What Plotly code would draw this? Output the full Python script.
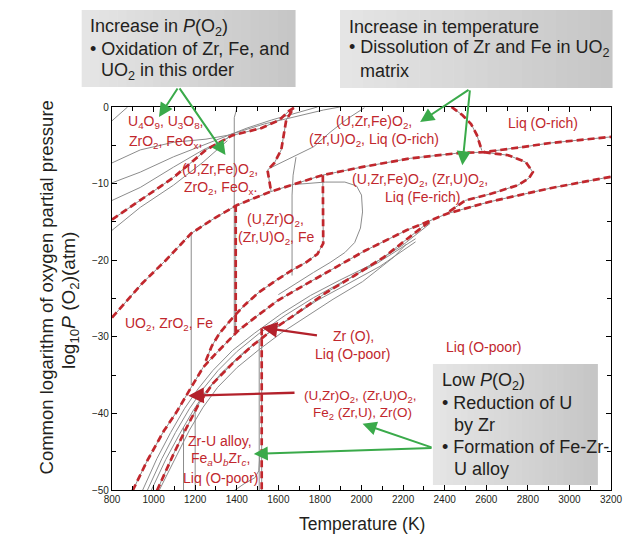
import plotly.graph_objects as go

# ---------------- data: T (K), log10 P(O2) (atm) ----------------
# red dashed phase boundaries
oxid_T = [800, 936, 1096, 1252, 1379, 1520, 1605, 1652, 1675, 1638, 1628, 1614, 1581, 1558, 1548, 1565]
oxid_P = [-14.7, -12.2, -9.2, -5.6, -3.7, -2.75, -1.7, -0.5, -0.1, -1.7, -3.4, -5.6, -7.3, -8.0, -8.25, -11.0]

main_T = [800, 946, 1059, 1181, 1294, 1402, 1558, 1685, 1812, 2000, 2235, 2471, 2588, 2781, 2908, 3200]
main_P = [-27.5, -23.0, -20.0, -16.5, -14.5, -12.8, -11.1, -10.0, -8.9, -7.85, -6.7, -6.0, -5.9, -5.2, -4.7, -3.9]

dome_T = [2433, 2485, 2527, 2555, 2579]
dome_P = [0.0, -1.05, -2.23, -3.66, -5.7]

lobe_T = [2588, 2706, 2790, 2824, 2805, 2753, 2626, 2499, 2414]
lobe_P = [-5.9, -6.3, -7.2, -8.5, -9.3, -10.2, -11.3, -12.2, -13.8]

band_hi_T = [899, 969, 1049, 1111, 1172, 1238, 1299, 1407, 1487, 1595, 1722, 1826, 2014, 2216, 2414, 2612, 2908, 3200]
band_hi_P = [-50.1, -46.2, -42.3, -39.8, -37.0, -34.0, -32.2, -29.2, -27.5, -25.3, -23.3, -21.7, -18.8, -16.1, -13.9, -12.4, -10.6, -9.1]

band_lo_T = [1016, 1096, 1158, 1219, 1285, 1379, 1473, 1567, 1685, 1826, 1967, 2108, 2216, 2330]
band_lo_P = [-50.1, -45.3, -41.9, -38.7, -36.1, -33.5, -31.2, -29.2, -27.0, -24.3, -22.0, -19.6, -17.3, -14.9]

v1_T = [1395, 1395]
v1_P = [-12.8, -29.4]

v2_T = [1814, 1816, 1788, 1732, 1666, 1591, 1506, 1440, 1384, 1318, 1280, 1250]
v2_P = [-8.9, -17.8, -19.2, -20.3, -21.3, -22.6, -24.2, -25.8, -27.4, -29.5, -31.2, -33.2]

v3_T = [1520, 1520]
v3_P = [-28.9, -50.5]

# thin grey boundaries
fan1_T = [800, 842, 875]
fan1_P = [-1.8, -0.8, 0.0]
fan2_T = [800, 936, 1096, 1252, 1355, 1534, 1661, 1816, 1896]
fan2_P = [-7.3, -5.6, -4.6, -4.2, -3.7, -2.2, -1.4, -0.4, 0.0]
fan3_T = [800, 936, 1096, 1219, 1332, 1449, 1567, 1685, 1788]
fan3_P = [-9.9, -8.5, -6.5, -5.2, -4.0, -2.75, -1.7, -0.8, 0.0]
fan4_T = [800, 936, 1096, 1238, 1346, 1379]
fan4_P = [-12.2, -10.5, -7.85, -5.6, -4.2, -3.7]
fan5_T = [800, 936, 1096, 1238, 1355]
fan5_P = [-16.1, -13.1, -10.2, -7.2, -4.4]

gv1_T = [1402, 1388, 1388]
gv1_P = [0.0, -1.4, -29.6]
gv2_T = [1181, 1181]
gv2_P = [-16.5, -36.3]
gv3_T = [1666, 1666, 1671, 1685]
gv3_P = [-22.0, -11.5, -8.9, -6.55]
gca_T = [1558, 1671, 1769, 1849, 1929, 2014]
gca_P = [-8.0, -6.5, -5.2, -3.3, -1.6, -0.1]
loop_T = [1685, 1826, 1920, 1976, 2000, 2005, 1995, 1967, 1920, 1849, 1769, 1685, 1600]
loop_P = [-10.1, -9.8, -9.8, -10.3, -11.5, -13.7, -15.8, -17.7, -19.0, -20.3, -21.6, -23.0, -24.5]

bg1_T = [946, 1016, 1082, 1148, 1214, 1285, 1379, 1487, 1614, 1755, 1896, 2061, 2200, 2330]
bg1_P = [-50.1, -45.9, -42.5, -39.4, -36.8, -34.4, -31.8, -29.5, -27.0, -24.6, -22.6, -20.4, -18.0, -15.2]
bg2_T = [969, 1040, 1105, 1172, 1238, 1310, 1402, 1506, 1633, 1769, 1910, 2075, 2260]
bg2_P = [-50.1, -45.9, -42.5, -39.4, -36.8, -34.4, -31.9, -29.6, -27.2, -24.9, -22.8, -20.4, -17.2]
bg3_T = [988, 1059, 1125, 1191, 1252, 1327, 1421, 1525, 1651, 1784, 1920, 2089, 2260]
bg3_P = [-50.1, -46.0, -42.7, -39.6, -37.1, -34.7, -32.3, -30.0, -27.7, -25.3, -23.3, -20.8, -17.6]
bg4_T = [1026, 1111, 1172, 1238, 1308, 1402, 1506, 1614, 1732, 1863, 2005, 2155, 2216]
bg4_P = [-50.1, -45.5, -42.2, -39.2, -36.6, -34.0, -31.7, -29.5, -27.4, -25.1, -22.8, -19.6, -17.9]
gv4_T = [1144, 1144]
gv4_P = [-50.5, -41.8]
gv5_T = [1200, 1200]
gv5_P = [-50.5, -39.7]
gv6_T = [1508, 1508]
gv6_P = [-50.5, -30.5]
gsm_T = [1365, 1435, 1487, 1506, 1511]
gsm_P = [-50.5, -49.2, -48.4, -47.5, -45.5]

x_ticks = [800, 1000, 1200, 1400, 1600, 1800, 2000, 2200, 2400, 2600, 2800, 3000, 3200]

# ---------------- styles ----------------
RED = "#c1272d"
GREY = "#8c8c8c"
TXT = "#231f20"
GREEN = "#3aaa4a"
DARKRED = "#b3212b"
FONT = "Liberation Sans, Arial, sans-serif"

fig = go.Figure()

grey_only = [(fan1_T, fan1_P), (fan2_T, fan2_P), (fan3_T, fan3_P), (fan4_T, fan4_P),
             (fan5_T, fan5_P), (gv1_T, gv1_P), (gv2_T, gv2_P), (gv3_T, gv3_P),
             (gca_T, gca_P), (loop_T, loop_P), (bg1_T, bg1_P), (bg2_T, bg2_P),
             (bg3_T, bg3_P), (bg4_T, bg4_P), (gv4_T, gv4_P), (gv5_T, gv5_P),
             (gv6_T, gv6_P), (gsm_T, gsm_P)]
red_dashed = [(oxid_T, oxid_P), (main_T, main_P), (dome_T, dome_P), (lobe_T, lobe_P),
              (band_hi_T, band_hi_P), (band_lo_T, band_lo_P), (v1_T, v1_P),
              (v2_T, v2_P), (v3_T, v3_P)]

for t, p in grey_only:
    fig.add_trace(go.Scatter(x=t, y=p, mode="lines", line=dict(color=GREY, width=1),
                             hoverinfo="skip", showlegend=False))
for t, p in red_dashed:
    fig.add_trace(go.Scatter(x=t, y=p, mode="lines", line=dict(color=GREY, width=1),
                             hoverinfo="skip", showlegend=False))
for t, p in red_dashed:
    fig.add_trace(go.Scatter(x=t, y=p, mode="lines",
                             line=dict(color=RED, width=2.7, dash="7px,4px"),
                             hoverinfo="skip", showlegend=False))

# ---------------- layout helpers ----------------
L, R, T_, B = 112, 622, 107, 490


def px(xp):
    return (xp - L) / (R - L)


def py(yp):
    return (B - yp) / (B - T_)


shapes = []


def grad_box(x0, x1, y0, y1, n=24):
    c0 = (229, 229, 229)
    c1 = (198, 198, 198)
    w = (x1 - x0) / n
    for i in range(n):
        f = i / (n - 1)
        c = tuple(int(round(c0[k] + (c1[k] - c0[k]) * f)) for k in range(3))
        shapes.append(dict(type="rect", xref="paper", yref="paper",
                           x0=px(x0 + i * w), x1=px(x0 + (i + 1) * w + 0.6),
                           y0=py(y1), y1=py(y0), line=dict(width=0),
                           fillcolor="rgb(%d,%d,%d)" % c, layer="above"))


grad_box(81, 299, 10, 87)
grad_box(345, 623, 10, 88)
grad_box(440, 608, 364, 485)

ann = []


def box_text(x, y, s):
    ann.append(dict(x=px(x), y=py(y), xref="paper", yref="paper", text=s, showarrow=False,
                    xanchor="left", yanchor="middle", font=dict(family=FONT, size=18, color=TXT)))


box_text(87, 27, "Increase in <i>P</i>(O<sub>2</sub>)")
box_text(87, 49, "• Oxidation of Zr, Fe, and")
box_text(99, 71, "UO<sub>2</sub> in this order")
box_text(352, 27, "Increase in temperature")
box_text(352, 49, "• Dissolution of Zr and Fe in UO<sub>2</sub>")
box_text(363, 71, "matrix")
box_text(447, 381, "Low <i>P</i>(O<sub>2</sub>)")
box_text(447, 403, "• Reduction of U")
box_text(459, 425, "by Zr")
box_text(447, 447, "• Formation of Fe-Zr-")
box_text(459, 469, "U alloy")


def label(t, p, s, anchor="center", size=14):
    ann.append(dict(x=t, y=p, xref="x", yref="y", text=s, showarrow=False,
                    xanchor=anchor, yanchor="middle", font=dict(family=FONT, size=size, color=RED)))


label(866, -1.96, "U<sub>4</sub>O<sub>9</sub>, U<sub>3</sub>O<sub>8</sub>,", "left")
label(871, -4.58, "ZrO<sub>2</sub>, FeO<sub>x</sub>,", "left")
label(1318, -8.25, "(U,Zr,Fe)O<sub>2</sub>,")
label(1322, -10.6, "ZrO<sub>2</sub>, FeO<sub>x</sub>.")
label(1586, -14.8, "(U,Zr)O<sub>2</sub>,")
label(1591, -17.1, "(Zr,U)O<sub>2</sub>, Fe")
label(2061, -1.96, "(U,Zr,Fe)O<sub>2</sub>,")
label(2061, -4.32, "(Zr,U)O<sub>2</sub>, Liq (O-rich)")
label(2875, -2.09, "Liq (O-rich)")
label(2282, -9.55, "(U,Zr,Fe)O<sub>2</sub>, (Zr,U)O<sub>2</sub>,")
label(2292, -11.78, "Liq (Fe-rich)")
label(1073, -28.27, "UO<sub>2</sub>, ZrO<sub>2</sub>, Fe")
label(1962, -29.84, "Zr (O),")
label(1958, -32.2, "Liq (O-poor)")
label(2588, -31.28, "Liq (O-poor)")
label(1995, -37.8, "(U,Zr)O<sub>2</sub>, (Zr,U)O<sub>2</sub>,", size=13.5)
label(2005, -40.0, "Fe<sub>2</sub> (Zr,U), Zr(O)", size=13.5)
label(1318, -43.59, "Zr-U alloy,")
label(1322, -45.94, "Fe<sub><i>a</i></sub>U<sub><i>b</i></sub>Zr<sub><i>c</i></sub>,")
label(1322, -48.43, "Liq (O-poor)")


def arrow(t, p, at, ap, color, width, size):
    ann.append(dict(x=t, y=p, ax=at, ay=ap, xref="x", yref="y", axref="x", ayref="y",
                    text="", showarrow=True, arrowhead=2, arrowsize=size,
                    arrowwidth=width, arrowcolor=color, standoff=0))


arrow(1026, -1.31, 1120, 2.62, GREEN, 2, 1.4)
arrow(1346, -6.28, 1120, 2.62, GREEN, 2, 1.4)
arrow(2282, -1.96, 2522, 2.36, GREEN, 2, 1.4)
arrow(2485, -7.59, 2522, 2.36, GREEN, 2, 1.4)
arrow(2005, -41.36, 2344, -44.5, GREEN, 2, 1.4)
arrow(1482, -45.29, 2344, -44.5, GREEN, 2, 1.4)
arrow(1167, -37.7, 1685, -37.3, DARKRED, 2.4, 1.3)
arrow(1520, -28.8, 1793, -29.84, DARKRED, 2.4, 1.3)

# axis titles
ann.append(dict(x=px(45), y=py(287), xref="paper", yref="paper", showarrow=False, textangle=-90,
                xanchor="center", yanchor="middle",
                text="Common logarithm of oxygen partial pressure",
                font=dict(family=FONT, size=18.5, color=TXT)))
ann.append(dict(x=px(69), y=py(300), xref="paper", yref="paper", showarrow=False, textangle=-90,
                xanchor="center", yanchor="middle",
                text="log<sub>10</sub><i>P</i> (O<sub>2</sub>)(atm)",
                font=dict(family=FONT, size=19, color=TXT)))
ann.append(dict(x=0.5, y=py(524), xref="paper", yref="paper", showarrow=False,
                xanchor="center", yanchor="middle",
                text="Temperature (K)", font=dict(family=FONT, size=17.5, color=TXT)))

fig.update_layout(
    width=635, height=535, autosize=False,
    margin=dict(l=L, r=635 - R, t=T_, b=535 - B),
    paper_bgcolor="white", plot_bgcolor="white",
    shapes=shapes, annotations=ann,
    xaxis=dict(range=[800, 3200], tickmode="array", tickvals=x_ticks,
               ticktext=[str(v) for v in x_ticks],
               ticks="inside", ticklen=5, tickwidth=1, tickcolor="black",
               mirror="ticks", showline=True, linecolor="black", linewidth=1.3,
               showgrid=False, zeroline=False,
               minor=dict(ticks="inside", tickmode="linear", tick0=800, dtick=100, ticklen=4,
                          tickwidth=1, tickcolor="black", showgrid=False),
               tickfont=dict(family=FONT, size=10, color=TXT)),
    yaxis=dict(range=[-50, 0], tick0=0, dtick=10,
               ticks="inside", ticklen=5, tickwidth=1, tickcolor="black",
               mirror="ticks", showline=True, linecolor="black", linewidth=1.3,
               showgrid=False, zeroline=False,
               minor=dict(ticks="inside", dtick=5, ticklen=4, tickwidth=1,
                          tickcolor="black", showgrid=False),
               tickfont=dict(family=FONT, size=10, color=TXT)),
)

fig.write_html("out.html", config={"displayModeBar": False},
               post_script="document.body.style.margin='0px';")
